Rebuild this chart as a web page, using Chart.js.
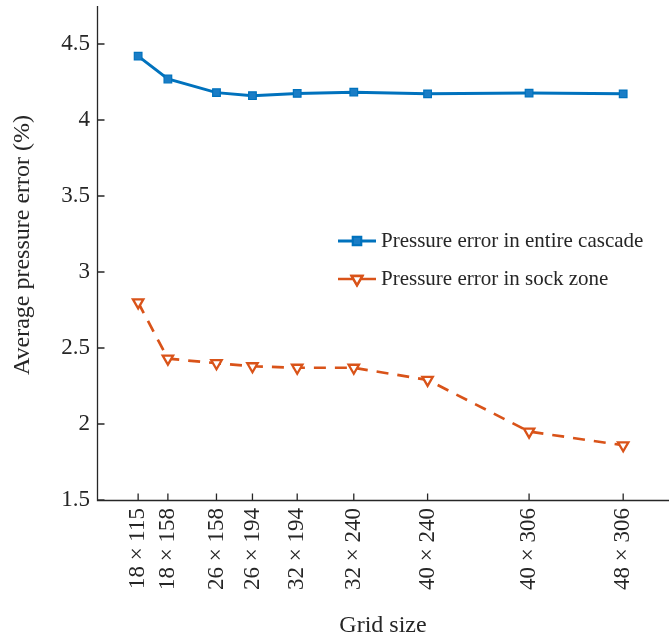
<!DOCTYPE html>
<html>
<head>
<meta charset="utf-8">
<script src="https://cdn.jsdelivr.net/npm/chart.js@4/dist/chart.umd.min.js"></script>
<style>
  html, body { margin: 0; padding: 0; background: #fff; }
  canvas { display: block; }
</style>
</head>
<body>
<canvas id="chart" width="669" height="640"></canvas>
<script>
// Grid resolutions (rows × columns) and the averaged pressure errors in percent
const gridRows = [18, 18, 26, 26, 32, 32, 40, 40, 48];
const gridCols = [115, 158, 158, 194, 194, 240, 240, 306, 306];
const errorEntireCascade = [4.42, 4.27, 4.18, 4.16, 4.175, 4.183, 4.172, 4.177, 4.172];
const errorSockZone = [2.80, 2.43, 2.40, 2.38, 2.37, 2.37, 2.29, 1.95, 1.86];
const yTickValues = [1.5, 2, 2.5, 3, 3.5, 4, 4.5];
const seriesNames = ['Pressure error in entire cascade', 'Pressure error in sock zone'];
const yAxisTitle = 'Average pressure error (%)';

// x position of each grid is its total cell count
const cellCounts = gridRows.map((r, i) => r * gridCols[i]);
const gridLabels = gridRows.map((r, i) => r + ' \u00d7 ' + gridCols[i]);

const textColor = '#262626';
const serif = "'Liberation Serif', 'Times New Roman', serif";
const blue = '#0072BD';
const orange = '#D95319';

// Axis lines with ticks pointing into the plot area, plus the y-axis title
const axesInside = {
  id: 'axesInside',
  afterDatasetsDraw(chart) {
    const { ctx, chartArea, scales: { x, y } } = chart;
    const left = Math.round(chartArea.left) + 0.5;
    const bottom = Math.round(chartArea.bottom) + 0.5;
    ctx.save();
    ctx.strokeStyle = textColor;
    ctx.lineWidth = 1.3;
    ctx.beginPath();
    ctx.moveTo(left, chartArea.top);
    ctx.lineTo(left, bottom);
    ctx.lineTo(chartArea.right, bottom);
    x.ticks.forEach(t => {
      const px = x.getPixelForValue(t.value);
      ctx.moveTo(px, bottom);
      ctx.lineTo(px, bottom - 7);
    });
    y.ticks.forEach(t => {
      const py = y.getPixelForValue(t.value);
      ctx.moveTo(left, py);
      ctx.lineTo(left + 7, py);
    });
    ctx.stroke();

    ctx.translate(23, (chartArea.top + chartArea.bottom) / 2 - 8);
    ctx.rotate(-Math.PI / 2);
    ctx.fillStyle = textColor;
    ctx.font = '24px ' + serif;
    ctx.textAlign = 'center';
    ctx.textBaseline = 'middle';
    ctx.fillText(yAxisTitle, 0, 0);
    ctx.restore();
  }
};

// Legend placed inside the plot, drawn from the dataset styles
const innerLegend = {
  id: 'innerLegend',
  afterDraw(chart) {
    const { ctx } = chart;
    const rows = [241, 279];
    ctx.save();
    chart.data.datasets.forEach((ds, i) => {
      const yy = rows[i];
      ctx.strokeStyle = ds.borderColor;
      ctx.lineWidth = ds.borderWidth;
      ctx.setLineDash([]);
      ctx.beginPath();
      ctx.moveTo(338, yy);
      ctx.lineTo(376, yy);
      ctx.stroke();
      Chart.helpers.drawPoint(ctx, {
        pointStyle: ds.pointStyle,
        rotation: ds.pointRotation || 0,
        radius: ds.pointRadius,
        borderWidth: ds.pointBorderWidth
      }, 357, yy);
      ctx.fillStyle = ds.pointBackgroundColor;
      ctx.strokeStyle = ds.pointBorderColor;
      ctx.lineWidth = ds.pointBorderWidth;
      ctx.fill();
      ctx.stroke();
      ctx.fillStyle = textColor;
      ctx.font = '21px ' + serif;
      ctx.textBaseline = 'middle';
      ctx.textAlign = 'left';
      ctx.fillText(ds.label, 381, yy);
    });
    ctx.restore();
  }
};

new Chart(document.getElementById('chart'), {
  type: 'line',
  data: {
    datasets: [
      {
        label: seriesNames[0],
        data: cellCounts.map((c, i) => ({ x: c, y: errorEntireCascade[i] })),
        borderColor: blue,
        borderWidth: 3,
        pointStyle: 'rect',
        pointRadius: 5.4,
        pointBorderWidth: 1.2,
        pointBackgroundColor: '#1a7dc6',
        pointBorderColor: blue,
        tension: 0
      },
      {
        label: seriesNames[1],
        data: cellCounts.map((c, i) => ({ x: c, y: errorSockZone[i] })),
        borderColor: orange,
        borderWidth: 2.7,
        borderDash: [12, 9],
        pointStyle: 'triangle',
        pointRotation: 180,
        pointRadius: 6,
        pointBorderWidth: 2.3,
        pointBackgroundColor: '#ffffff',
        pointBorderColor: orange,
        tension: 0
      }
    ]
  },
  options: {
    responsive: false,
    animation: false,
    layout: { autoPadding: false, padding: { left: 0, right: 0, top: 6, bottom: 0 } },
    plugins: { legend: { display: false }, tooltip: { enabled: false } },
    scales: {
      x: {
        type: 'linear',
        min: 1000,
        max: 15880,
        grid: { display: false, drawTicks: false },
        border: { display: false },
        afterBuildTicks: scale => { scale.ticks = cellCounts.map(v => ({ value: v })); },
        afterFit: scale => {
          scale.height = 140;
          scale.paddingLeft = 0;
          scale.paddingRight = 0;
        },
        ticks: {
          autoSkip: false,
          minRotation: 90,
          maxRotation: 90,
          padding: 8,
          color: textColor,
          font: { family: serif, size: 23 },
          callback: (v) => gridLabels[cellCounts.indexOf(v)]
        },
        title: {
          display: true,
          text: 'Grid size',
          color: textColor,
          font: { family: serif, size: 24 },
          padding: { top: 0, bottom: 0 }
        }
      },
      y: {
        type: 'linear',
        min: 1.5,
        max: 4.75,
        grid: { display: false, drawTicks: false },
        border: { display: false },
        afterBuildTicks: scale => { scale.ticks = yTickValues.map(v => ({ value: v })); },
        afterFit: scale => {
          scale.width = 97;
          scale.paddingTop = 0;
          scale.paddingBottom = 0;
        },
        ticks: {
          padding: 7,
          color: textColor,
          font: { family: serif, size: 23 },
          callback: v => String(v)
        }
      }
    }
  },
  plugins: [axesInside, innerLegend]
});
</script>
</body>
</html>
